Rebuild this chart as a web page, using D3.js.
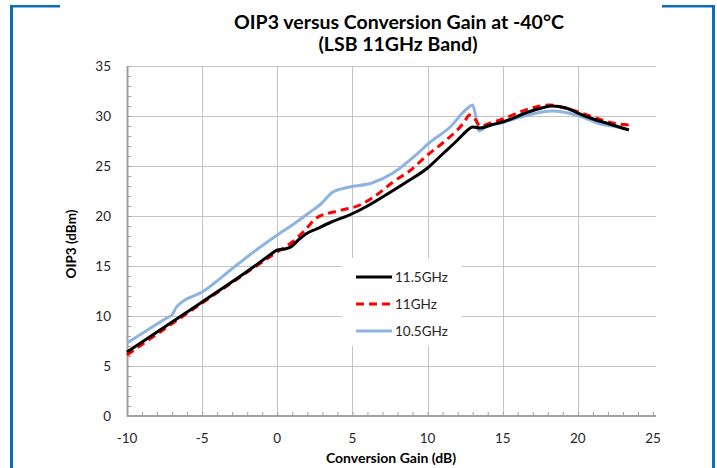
<!DOCTYPE html>
<html>
<head>
<meta charset="utf-8">
<script src="https://cdn.jsdelivr.net/npm/d3@7"></script>
<style>
  body { margin: 0; background: #fff; }
  text { font-family: Lato, "Open Sans", sans-serif; fill: #262626; }
</style>
</head>
<body>
<div id="chart"></div>
<script>
var oip3Chart = (function () {

    "use strict";

    // Conversion gain (dB) / OIP3 (dBm) per LO band
    var gain115 = [-10, -5, -1.5, -0.5, 0, 0.5, 0.9, 1.4, 1.9, 2.6, 3.6, 4.8, 6.0, 7.0, 8.6, 10.0, 11.0, 12.0, 12.6, 13.0, 13.5, 14.2, 15.1, 16.7, 17.6, 18.3, 19.2, 20.3, 21.2, 22.1, 23.4];
    var oip115  = [6.4, 11.4, 15.0, 16.1, 16.6, 16.7, 16.9, 17.6, 18.2, 18.7, 19.4, 20.1, 21.0, 21.9, 23.4, 24.8, 26.2, 27.6, 28.5, 28.9, 28.8, 29.1, 29.45, 30.4, 30.8, 31.0, 30.8, 30.1, 29.6, 29.2, 28.6];

    var gain11 = [-10, -5, 0, 1.0, 1.85, 2.6, 4.0, 5.5, 6.6, 7.7, 8.8, 10.0, 11.0, 11.7, 12.4, 12.8, 13.2, 13.5, 14.2, 15.0, 16.7, 18.1, 19.4, 20.8, 22.3, 23.5];
    var oip11  = [6.1, 11.3, 16.4, 17.4, 18.6, 19.8, 20.5, 21.1, 22.1, 23.4, 24.5, 26.1, 27.3, 28.2, 29.3, 30.1, 29.6, 29.0, 29.3, 29.7, 30.7, 31.1, 30.7, 30.0, 29.3, 29.1];

    var gain105 = [-10, -9, -8, -7.3, -7.0, -6.75, -6.5, -5.0, -2.7, -1.4, 0, 1.0, 2.1, 2.9, 3.7, 4.8, 6.3, 7.7, 9.3, 10.1, 11.5, 12.6, 13.0, 13.2, 13.4, 13.9, 15.1, 16.7, 18.3, 19.9, 21.5, 22.6, 23.1];
    var oip105  = [7.3, 8.25, 9.2, 9.85, 10.1, 10.8, 11.2, 12.4, 15.1, 16.6, 18.1, 19.1, 20.3, 21.2, 22.4, 22.9, 23.3, 24.3, 26.2, 27.3, 28.9, 30.7, 31.1, 30.0, 28.5, 28.9, 29.4, 30.1, 30.5, 30.1, 29.2, 28.9, 28.7];

    var seriesNames = ["11.5GHz", "11GHz", "10.5GHz"];
    var xTicks = [-10, -5, 0, 5, 10, 15, 20, 25];
    var yTicks = [0, 5, 10, 15, 20, 25, 30, 35];

    var width = 717,
        height = 468,
        plot = {left: 127, right: 653, top: 66, bottom: 416},
        plotEdge = 656;   // grid runs a hair past the last tick, no line at 25

    function createFrame(svg) {
        var blue = "#0b6fb6";
        svg.append("rect").attr("x", 10).attr("y", 5).attr("width", 3).attr("height", height - 5).attr("fill", blue);
        svg.append("rect").attr("x", 712).attr("y", 5).attr("width", 3).attr("height", height - 5).attr("fill", blue);
        svg.append("rect").attr("x", 10).attr("y", 5).attr("width", 50).attr("height", 2.5).attr("fill", blue);
        svg.append("rect").attr("x", 662).attr("y", 5).attr("width", 53).attr("height", 2.5).attr("fill", blue);
    }

    function render() {

        var svg = d3.select("#chart").append("svg")
            .attr("width", width)
            .attr("height", height);

        createFrame(svg);

        var x = d3.scaleLinear().domain([-10, 25]).range([plot.left, plot.right]),
            y = d3.scaleLinear().domain([0, 35]).range([plot.bottom, plot.top]);

        // grid
        var grid = svg.append("g").attr("stroke", "#c4c4c4").attr("stroke-width", 1);
        grid.selectAll(".gx").data(xTicks.slice(1, -1)).enter().append("line")
            .attr("x1", function (d) { return Math.round(x(d)) + 0.5; })
            .attr("x2", function (d) { return Math.round(x(d)) + 0.5; })
            .attr("y1", plot.top).attr("y2", plot.bottom);
        grid.selectAll(".gy").data(yTicks.slice(1)).enter().append("line")
            .attr("y1", function (d) { return Math.round(y(d)) + 0.5; })
            .attr("y2", function (d) { return Math.round(y(d)) + 0.5; })
            .attr("x1", plot.left).attr("x2", plotEdge);

        // axes with inner minor ticks
        var minorX = d3.range(-10, 25.01, 1),
            minorY = d3.range(0, 35.01, 1);

        var xAxis = svg.append("g")
            .attr("transform", "translate(0," + plot.bottom + ")")
            .call(d3.axisBottom(x).tickValues(minorX).tickSize(-4).tickSizeOuter(0).tickFormat(""));
        xAxis.select(".domain").attr("d", "M" + plot.left + ",0H" + plotEdge);
        var yAxis = svg.append("g")
            .attr("transform", "translate(" + plot.left + ",0)")
            .call(d3.axisLeft(y).tickValues(minorY).tickSize(-4).tickSizeOuter(0).tickFormat(""));
        [xAxis, yAxis].forEach(function (a) {
            a.select(".domain").attr("stroke", "#a0a0a0").attr("stroke-width", 2);
            a.selectAll(".tick line").attr("stroke", "#a0a0a0").attr("stroke-width", 1);
        });

        svg.append("g").selectAll("text").data(xTicks).enter().append("text")
            .attr("x", function (d) { return x(d); })
            .attr("y", 443)
            .attr("text-anchor", "middle")
            .style("font-size", "13.5px")
            .text(function (d) { return d; });

        svg.append("g").selectAll("text").data(yTicks).enter().append("text")
            .attr("x", 111)
            .attr("y", function (d) { return y(d) + 4.5; })
            .attr("text-anchor", "end")
            .style("font-size", "13.5px")
            .text(function (d) { return d; });

        // titles
        svg.append("text").attr("x", 399).attr("y", 29).attr("text-anchor", "middle")
            .style("font-size", "19.5px").style("font-weight", "bold").style("fill", "#000")
            .text("OIP3 versus Conversion Gain at -40°C");
        svg.append("text").attr("x", 398).attr("y", 51).attr("text-anchor", "middle")
            .style("font-size", "19.5px").style("font-weight", "bold").style("fill", "#000")
            .text("(LSB 11GHz Band)");
        svg.append("text").attr("x", 391).attr("y", 463).attr("text-anchor", "middle")
            .style("font-size", "14px").style("font-weight", "bold").style("fill", "#000")
            .text("Conversion Gain (dB)");
        svg.append("text").attr("transform", "translate(76,244) rotate(-90)").attr("text-anchor", "middle")
            .style("font-size", "13.5px").style("font-weight", "bold").style("fill", "#000")
            .text("OIP3 (dBm)");

        // series
        var series = [
            {name: seriesNames[0], xs: gain115, ys: oip115, color: "#000000", dash: null},
            {name: seriesNames[1], xs: gain11, ys: oip11, color: "#ff0000", dash: "8,5"},
            {name: seriesNames[2], xs: gain105, ys: oip105, color: "#8db3e2", dash: null}
        ];

        var line = d3.line()
            .x(function (d) { return x(d[0]); })
            .y(function (d) { return y(d[1]); })
            .curve(d3.curveMonotoneX);

        series.slice().reverse().forEach(function (s) {
            svg.append("path")
                .datum(d3.zip(s.xs, s.ys))
                .attr("fill", "none")
                .attr("stroke", s.color)
                .attr("stroke-width", 3)
                .attr("stroke-dasharray", s.dash)
                .attr("stroke-linejoin", "round")
                .attr("d", line);
        });

        // legend
        var legend = svg.append("g");
        legend.append("rect").attr("x", 342).attr("y", 258).attr("width", 120).attr("height", 88).attr("fill", "#fff");
        var item = legend.selectAll("g.item").data(series).enter().append("g")
            .attr("transform", function (d, i) { return "translate(356," + (277 + i * 27) + ")"; });
        item.append("line")
            .attr("x1", 0).attr("x2", 36)
            .attr("stroke", function (d) { return d.color; })
            .attr("stroke-width", 3)
            .attr("stroke-dasharray", function (d) { return d.dash; });
        item.append("text")
            .attr("x", 39).attr("y", 4.5)
            .style("font-size", "13.5px")
            .text(function (d) { return d.name; });
    }

    return {
        render: render
    };

}());

oip3Chart.render();
</script>
</body>
</html>
